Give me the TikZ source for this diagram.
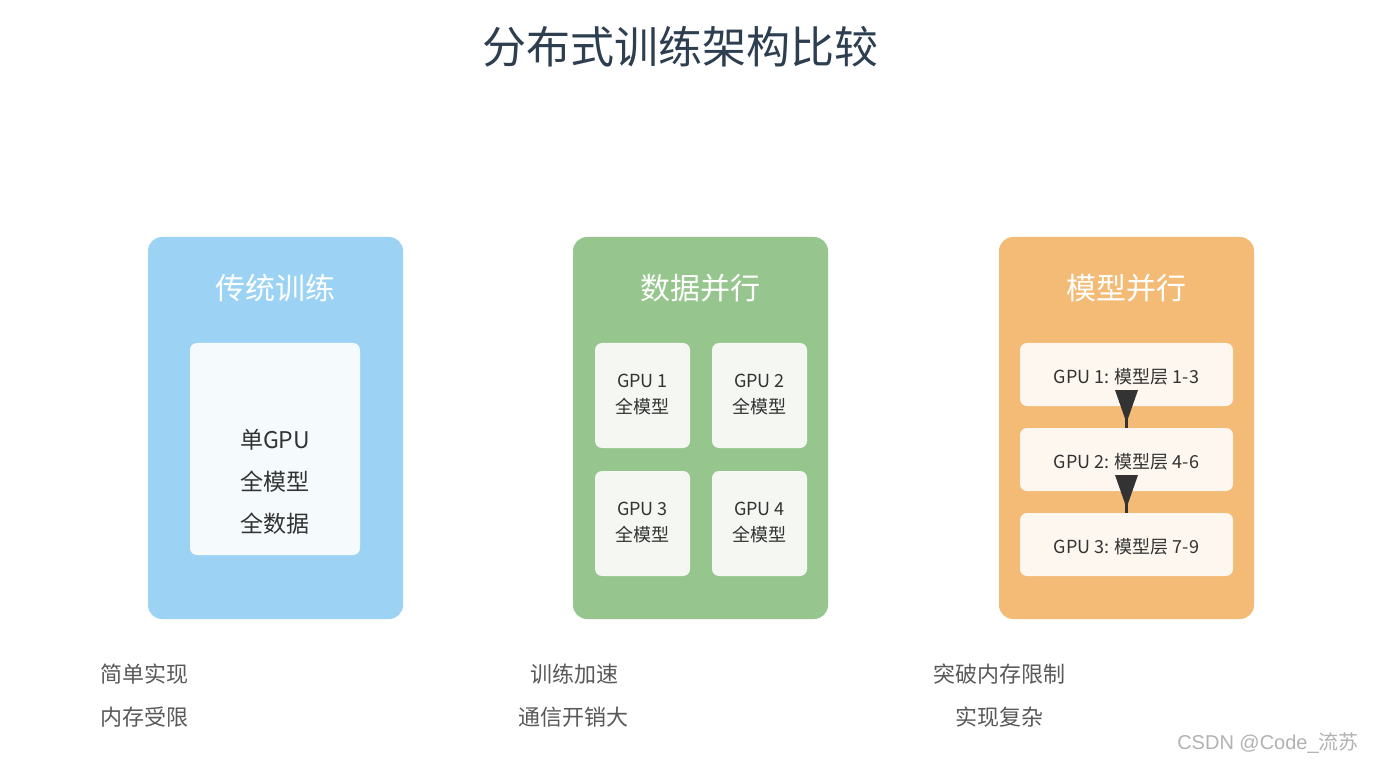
\documentclass[tikz,border=0pt]{standalone}
\usepackage{fontspec}
\setmainfont{Liberation Sans}
\newfontfamily\cjk{Noto Sans CJK SC}
\begin{document}
\begin{tikzpicture}[x=1pt,y=-1pt,
  panel/.style={rounded corners=14pt,draw=none},
  inner/.style={rounded corners=7pt,draw=none},
  ttl/.style={text=white,font=\cjk\fontsize{30}{34}\selectfont,anchor=center},
  gtxt/.style={text=black!80,font=\cjk\fontsize{18}{26}\selectfont,align=center},
  btxt/.style={text=black!65,font=\cjk\fontsize{22}{28}\selectfont}]
\definecolor{cb}{HTML}{9CD3F5}\definecolor{cg}{HTML}{96C68E}\definecolor{co}{HTML}{F4BB76}
\definecolor{ib}{HTML}{F5FAFC}\definecolor{ig}{HTML}{F4F7F2}\definecolor{io}{HTML}{FEF7EF}
\definecolor{tc}{HTML}{2C3E50}
\useasboundingbox (0,0) rectangle (1387,767);
\fill[white] (0,0) rectangle (1387,767);
\node[text=tc,font=\cjk\fontsize{44}{50}\selectfont] (title) at (680,47) {分布式训练架构比较};
% panels
\fill[panel,cb] (148,237) rectangle (403,619);
\fill[panel,cg] (573,237) rectangle (828,619);
\fill[panel,co] (999,237) rectangle (1254,619);
\node[ttl] (t1) at (275.5,288) {传统训练};
\node[ttl] (t2) at (700.5,288) {数据并行};
\node[ttl] (t3) at (1126.5,288) {模型并行};
% traditional
\fill[inner,ib] (190,343) rectangle (360,555);
\node[gtxt,font=\cjk\fontsize{23}{42}\selectfont] (single) at (275,482) {单GPU\\全模型\\全数据};
% data parallel
\foreach \x/\y/\n in {595/343/1,712/343/2,595/471/3,712/471/4}{
  \fill[inner,ig] (\x,\y) rectangle ++(95,105);
  \node[gtxt] (d\n) at (\x+47.5,\y+52) {GPU \n\\\cjk 全模型};
}
% model parallel
\foreach \y/\n/\l in {343/1/1-3,428/2/4-6,513/3/7-9}{
  \fill[inner,io] (1020,\y) rectangle ++(213,63);
  \node[gtxt] (m\n) at (1126.5,\y+34) {GPU \n: {\cjk 模型层} \l};
}
\foreach \y in {390,475}{
  \draw[line width=3pt,black!80] (1126.5,\y+20) -- (1126.5,\y+38);
  \fill[black!80] (1115,\y) -- (1138,\y) -- (1127.5,\y+30) -- (1125.5,\y+30) -- cycle;
}
% bottom
\node[btxt,anchor=west] (b1) at (97,674) {简单实现};
\node[btxt,anchor=west] (b2) at (97,717) {内存受限};
\node[btxt] (b3) at (574,674) {训练加速};
\node[btxt] (b4) at (573,717) {通信开销大};
\node[btxt] (b5) at (999,674) {突破内存限制};
\node[btxt] (b6) at (999,717) {实现复杂};
\node[text=black!30,font=\fontsize{20}{24}\selectfont] (wm) at (1268,743) {CSDN @Code\_{\cjk 流苏}};
\end{tikzpicture}
\end{document}
